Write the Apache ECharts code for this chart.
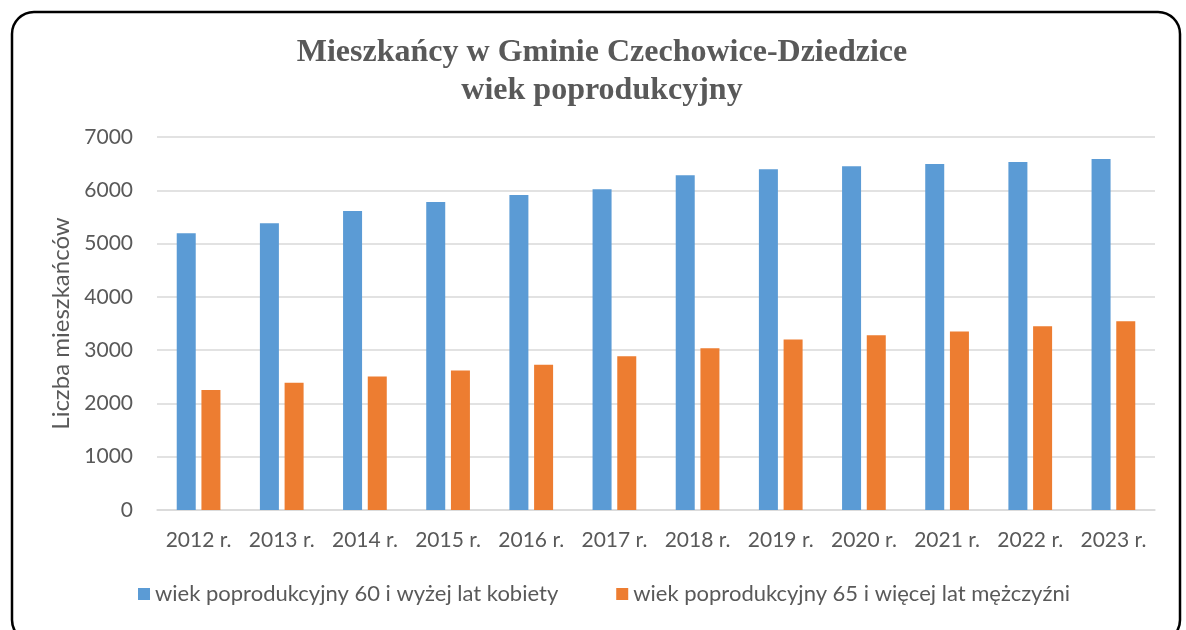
<!DOCTYPE html>
<html>
<head>
<meta charset="utf-8">
<script src="https://cdn.jsdelivr.net/npm/echarts@6/dist/echarts.min.js"></script>
<style>
  html, body { margin: 0; padding: 0; background: #fff; }
  #chart { width: 1186px; height: 630px; }
</style>
</head>
<body>
<div id="chart"></div>
<script>
const years = ["2012 r.", "2013 r.", "2014 r.", "2015 r.", "2016 r.", "2017 r.",
               "2018 r.", "2019 r.", "2020 r.", "2021 r.", "2022 r.", "2023 r."];
const kobiety = [5195, 5383, 5613, 5782, 5913, 6020, 6281, 6394, 6450, 6495, 6533, 6589];
const mezczyzni = [2251, 2388, 2507, 2619, 2726, 2887, 3036, 3199, 3280, 3349, 3448, 3542];
const seriesNames = ["wiek poprodukcyjny 60 i wyżej lat kobiety",
                     "wiek poprodukcyjny 65 i więcej lat mężczyźni"];

const font = "Lato, 'Open Sans', sans-serif";
const chart = echarts.init(document.getElementById("chart"));
chart.setOption({
    animation: false,
    graphic: [{
        type: "rect",
        shape: { x: 12, y: 12, width: 1168, height: 630, r: 22 },
        style: { fill: "none", stroke: "#000", lineWidth: 2.5 }
    }],
    title: {
        text: "Mieszkańcy w Gminie Czechowice-Dziedzice\nwiek poprodukcyjny",
        left: 597,
        textAlign: "center",
        top: 29,
        textStyle: {
            fontFamily: "'Liberation Serif', serif",
            fontWeight: "bold",
            fontSize: 32,
            lineHeight: 38,
            color: "#595959"
        }
    },
    grid: { left: 157, right: 31, top: 137, bottom: 120 },
    legend: {
        bottom: 20,
        left: 133,
        itemWidth: 12,
        itemHeight: 12,
        itemGap: 58,
        icon: "rect",
        textStyle: { fontFamily: font, fontSize: 22, color: "#595959" },
        data: seriesNames
    },
    xAxis: {
        type: "category",
        data: years,
        axisLine: { lineStyle: { color: "#d9d9d9", width: 1.5 } },
        axisTick: { show: false },
        axisLabel: { interval: 0, fontFamily: font, fontSize: 21, color: "#595959", margin: 20 }
    },
    yAxis: {
        type: "value",
        min: 0,
        max: 7000,
        interval: 1000,
        name: "Liczba mieszkańców",
        nameLocation: "middle",
        nameGap: 84,
        nameTextStyle: { fontFamily: font, fontSize: 24, color: "#595959" },
        axisLine: { show: false },
        axisTick: { show: false },
        axisLabel: {
            fontFamily: font, fontSize: 21, color: "#595959", margin: 24,
            formatter: v => String(v)
        },
        splitLine: { lineStyle: { color: "#d9d9d9", width: 1.5 } }
    },
    series: [
        {
            name: seriesNames[0],
            type: "bar",
            data: kobiety,
            barWidth: 19,
            barGap: "30%",
            itemStyle: { color: "#5b9bd5" }
        },
        {
            name: seriesNames[1],
            type: "bar",
            data: mezczyzni,
            barWidth: 19,
            itemStyle: { color: "#ed7d31" }
        }
    ]
});
</script>
</body>
</html>
